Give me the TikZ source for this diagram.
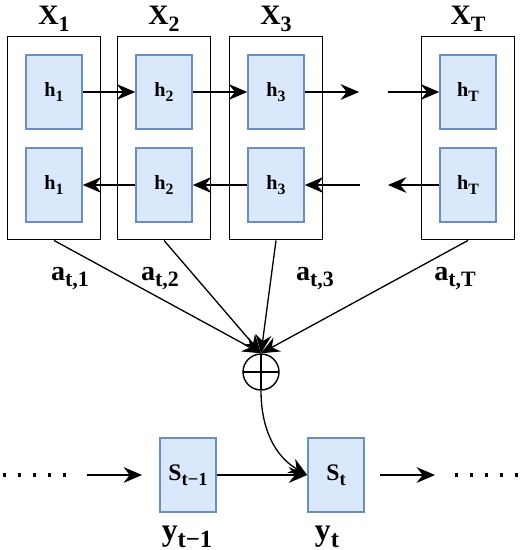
\documentclass[tikz,border=0pt]{standalone}
\usepackage{fontspec}
\setmainfont{LiberationSerif}[Extension=.ttf, UprightFont=*-Regular, BoldFont=*-Bold]
\usetikzlibrary{arrows.meta}
\definecolor{cellFill}{HTML}{DAE8FC}
\definecolor{cellLine}{HTML}{6C8EBF}
\newcommand{\idx}[1]{\raisebox{-0.5ex}{\scalebox{0.78}{#1}}}

\begin{document}
\begin{tikzpicture}[
    x=0.02cm, y=-0.02cm,
    frame/.style={draw, line width=1.1pt, minimum width=1.86cm, minimum height=4.06cm},
    cell/.style={draw=cellLine, fill=cellFill, line width=0.9pt, minimum width=1.12cm, minimum height=1.48cm, font=\rmfamily\bfseries\fontsize{11.5}{13}\selectfont},
    head/.style={font=\rmfamily\bfseries\fontsize{16}{18}\selectfont, anchor=base},
    lab/.style={font=\rmfamily\bfseries\fontsize{16}{18}\selectfont, anchor=base},
    sum/.style={circle, draw, line width=0.8pt, minimum size=0.72cm, inner sep=0pt,
        path picture={\draw[line width=0.8pt] (path picture bounding box.north) -- (path picture bounding box.south)
            (path picture bounding box.west) -- (path picture bounding box.east);}},
    arr/.style={-{Stealth[length=10.5pt, width=9pt, inset=3.5pt]}, line width=0.75pt},
    dots/.style={line width=1.9pt, dash pattern=on 1.9pt off 6.6pt},
]
\useasboundingbox (0,0) rectangle (521,550);

% Encoder frames
\node[frame] (F1) at (54,138) {};
\node[frame] (F2) at (164,138) {};
\node[frame] (F3) at (276,138) {};
\node[frame] (FT) at (468,138) {};

\node[head] (X1) at (54,25) {X\idx{1}};
\node[head] (X2) at (164,25) {X\idx{2}};
\node[head] (X3) at (276,25) {X\idx{3}};
\node[head] (XT) at (468,25) {X\idx{T}};

% Forward states
\node[cell] (f1) at (54,92) {h\idx{1}};
\node[cell] (f2) at (164,92) {h\idx{2}};
\node[cell] (f3) at (276,92) {h\idx{3}};
\node[cell] (fT) at (468,92) {h\idx{T}};

% Backward states
\node[cell] (b1) at (54,185) {h\idx{1}};
\node[cell] (b2) at (164,185) {h\idx{2}};
\node[cell] (b3) at (276,185) {h\idx{3}};
\node[cell] (bT) at (468,185) {h\idx{T}};

\coordinate (fgapL) at (359,92);
\coordinate (fgapR) at (388,92);
\coordinate (bgapL) at (360,185);
\coordinate (bgapR) at (388,185);

\draw[arr] (f1) -- (f2);
\draw[arr] (f2) -- (f3);
\draw[arr] (f3) -- (fgapL);
\draw[arr] (fgapR) -- (fT);

\draw[arr] (b2) -- (b1);
\draw[arr] (b3) -- (b2);
\draw[arr] (bgapL) -- (b3);
\draw[arr] (bT) -- (bgapR);

% Attention weights
\node[sum] (plus) at (261,372) {};

\draw[arr] (F1.south) -- (plus.north);
\draw[arr] (F2.south) -- (plus.north);
\draw[arr] (F3.south) -- (plus.north);
\draw[arr] (FT.south) -- (plus.north);

\node[lab] (a1) at (70,280) {a\idx{t,1}};
\node[lab] (a2) at (160,280) {a\idx{t,2}};
\node[lab] (a3) at (315,280) {a\idx{t,3}};
\node[lab] (aT) at (455,280) {a\idx{t,T}};

% Decoder
\node[cell, font=\rmfamily\bfseries\fontsize{13.5}{15}\selectfont] (sprev) at (188,475) {S\idx{t−1}};
\node[cell, font=\rmfamily\bfseries\fontsize{13.5}{15}\selectfont] (scur) at (336,475) {S\idx{t}};

\node[lab, font=\rmfamily\bfseries\fontsize{18}{20}\selectfont] (yprev) at (187,540) {y\idx{t−1}};
\node[lab, font=\rmfamily\bfseries\fontsize{18}{20}\selectfont] (ycur) at (327,540) {y\idx{t}};

\coordinate (dotsL0) at (3,475);
\coordinate (dotsL1) at (68,475);
\coordinate (inL) at (87,475);
\coordinate (inR) at (142,475);
\coordinate (outL) at (380,475);
\coordinate (outR) at (435,475);
\coordinate (dotsR0) at (455,475);
\coordinate (dotsR1) at (519,475);

\draw[dots] (dotsL0) -- (dotsL1);
\draw[arr] (inL) -- (inR);
\draw[arr] (sprev) -- (scur);
\draw[arr] (outL) -- (outR);
\draw[dots] (dotsR0) -- (dotsR1);

\draw[arr] (plus.south) to[out=-90, in=150] (scur.west);

\end{tikzpicture}
\end{document}
